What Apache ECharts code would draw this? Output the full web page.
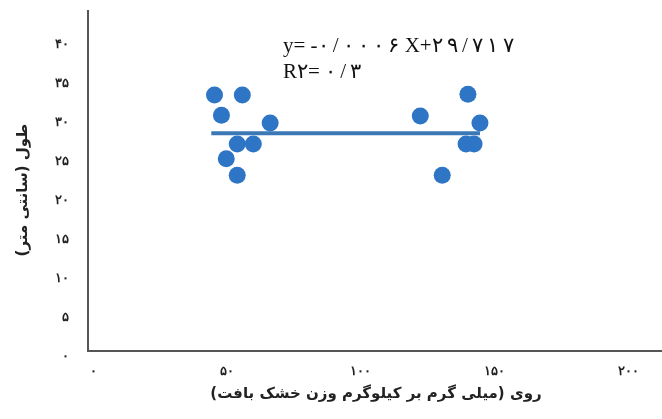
<!DOCTYPE html>
<html>
<head>
<meta charset="utf-8">
<script src="https://cdn.jsdelivr.net/npm/echarts@6/dist/echarts.min.js"></script>
<style>
  html, body { margin: 0; padding: 0; background: #fff; }
  #chart { width: 662px; height: 419px; }
</style>
</head>
<body>
<div id="chart"></div>
<script>
// zinc (mg/kg dry weight) vs length (cm)
const zincX = [45.4, 55.8, 48.0, 66.2, 53.9, 59.9, 49.8, 53.9, 140.1, 122.3, 144.6, 139.4, 142.4, 130.5];
const lengthY = [33.5, 33.5, 30.9, 29.9, 27.2, 27.2, 25.3, 23.2, 33.6, 30.8, 29.9, 27.2, 27.2, 23.2];

// trend line as drawn
const trendX = [44.2, 144.6];
const trendY = [28.6, 28.6];

const xTickLabels = ['۰', '۵۰', '۱۰۰', '۱۵۰', '۲۰۰'];
const yTickLabels = ['۰', '۵', '۱۰', '۱۵', '۲۰', '۲۵', '۳۰', '۳۵', '۴۰'];

const eqLine1 = 'y= -۰/۰۰۰۶ X+۲۹/۷۱۷';
const eqLine2 = 'R۲= ۰/۳';

const xTitle = 'روی (میلی گرم بر کیلوگرم وزن خشک بافت)';
const yTitle = 'طول (سانتی متر)';

// persian digits are narrow in the fallback font, open them up a little
const spaceDigits = s => s.replace(/([۰-۹\/])(?=[۰-۹\/])/g, '$1\u2009');
// keep the closing bracket inside the right-to-left run
const rtl = s => '\u200F' + s + '\u200F';

const chart = echarts.init(document.getElementById('chart'));

chart.setOption({
  animation: false,
  backgroundColor: '#fff',
  grid: { left: 93, right: 0, top: 10, bottom: 63 },
  xAxis: {
    type: 'value',
    min: 0,
    max: 211.5,
    interval: 50,
    splitLine: { show: false },
    axisLine: { show: false },
    axisTick: { show: false },
    axisLabel: {
      margin: 9,
      fontSize: 13,
      fontWeight: 'bold',
      color: '#222',
      formatter: v => (v % 50 === 0 ? xTickLabels[v / 50] : '')
    },
    name: rtl(xTitle),
    nameLocation: 'middle',
    nameGap: 31,
    nameTextStyle: { fontSize: 15, fontWeight: 'bold', color: '#222', fontFamily: 'DejaVu Sans' }
  },
  yAxis: {
    type: 'value',
    min: 0,
    max: 44.4,
    interval: 5,
    splitLine: { show: false },
    axisLine: { show: false },
    axisTick: { show: false },
    axisLabel: {
      margin: 24,
      fontSize: 13,
      fontWeight: 'bold',
      color: '#222',
      formatter: v => (v % 5 === 0 ? yTickLabels[v / 5] : '')
    },
    name: rtl(yTitle),
    nameLocation: 'middle',
    nameRotate: 90,
    nameGap: 62,
    nameTextStyle: { fontSize: 15, fontWeight: 'bold', color: '#222', fontFamily: 'DejaVu Sans', padding: [0, 14, 0, 0] }
  },
  graphic: [
    {
      type: 'polyline',
      shape: { points: [[88, 10], [88, 351], [662, 351]] },
      style: { stroke: '#555', lineWidth: 2, fill: null },
      z: 1
    },
    {
      type: 'text',
      left: 283,
      top: 36,
      style: { text: spaceDigits(eqLine1), fontSize: 21, fontFamily: 'Liberation Serif', fill: '#111' }
    },
    {
      type: 'text',
      left: 283,
      top: 62,
      style: { text: spaceDigits(eqLine2), fontSize: 21, fontFamily: 'Liberation Serif', fill: '#111' }
    }
  ],
  series: [
    {
      type: 'line',
      data: trendX.map((x, i) => [x, trendY[i]]),
      showSymbol: false,
      lineStyle: { color: '#3B78B5', width: 4 },
      z: 2
    },
    {
      type: 'scatter',
      data: zincX.map((x, i) => [x, lengthY[i]]),
      symbolSize: 17,
      itemStyle: { color: '#2E75C5', opacity: 1 },
      z: 3
    }
  ]
});
</script>
</body>
</html>
